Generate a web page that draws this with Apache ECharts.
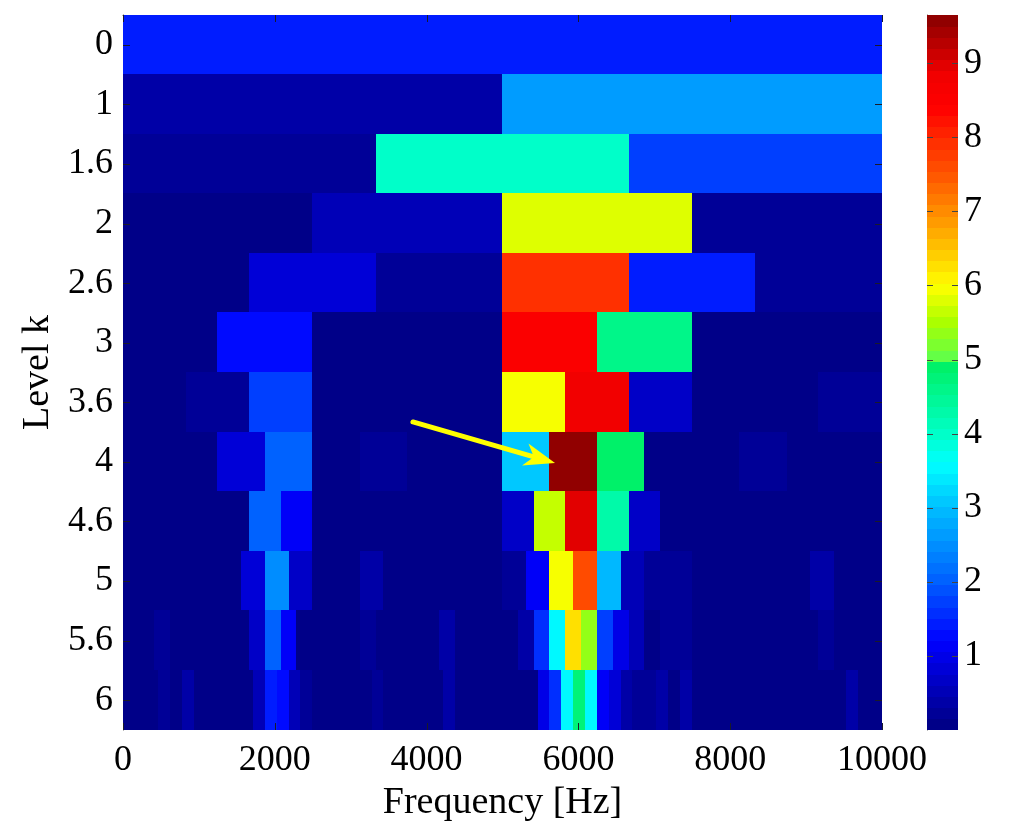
<!DOCTYPE html>
<html>
<head>
<meta charset="utf-8">
<script src="https://cdn.jsdelivr.net/npm/echarts@6/dist/echarts.min.js"></script>
<style>html,body{margin:0;padding:0;background:#fff;}#chart{width:1024px;height:839px;}</style>
</head>
<body>
<div id="chart"></div>
<script>
// ---- data ----
const levels = ['0','1','1.6','2','2.6','3','3.6','4','4.6','5','5.6','6'];
const freqMin = 0, freqMax = 10000, freqStep = 2000;
const xTicks = [0, 2000, 4000, 6000, 8000, 10000];
const cbMin = 0, cbMax = 9.65, cbStep = 1;
const cbTicks = [1, 2, 3, 4, 5, 6, 7, 8, 9];

const row0  = [1.45];
const row1  = [0.4, 2.7];
const row16 = [0.25, 4.0, 1.8];
const row2  = [0.1, 0.5, 5.8, 0.3];
const row26 = [0.08, 0.9, 0.3, 7.9, 1.45, 0.2];
const row3  = [0.1, 1.3, 0.1, 0.1, 8.5, 4.6, 0.1, 0.12];
const row36 = [0.05, 0.2, 1.75, 0.1, 0.1, 0.1, 6.0, 8.8, 0.75, 0.1, 0.1, 0.25];
const row4  = [0.1, 0.1, 0.85, 2.0, 0.1, 0.3, 0.1, 0.1, 3.15, 9.6, 4.85, 0.15, 0.1, 0.25, 0.1, 0.1];
const row46 = [0.1, 0.1, 0.1, 0.1, 2.0, 1.2, 0.1, 0.1, 0.1, 0.1, 0.1, 0.1,
               0.65, 5.6, 9.0, 4.3, 0.65, 0.12, 0.1, 0.1, 0.1, 0.1, 0.1, 0.1];
const row5  = [0.1, 0.1, 0.1, 0.1, 0.1, 0.8, 2.5, 0.7, 0.1, 0.1, 0.35, 0.1, 0.1, 0.1, 0.1, 0.1,
               0.3, 1.2, 6.0, 7.6, 3.0, 0.6, 0.25, 0.25, 0.1, 0.1, 0.1, 0.1, 0.1, 0.35, 0.1, 0.1];
const row56 = [0.1, 0.1, 0.3, 0.1, 0.1, 0.1, 0.1, 0.1, 0.7, 2.0, 1.2, 0.15,
               0.1, 0.1, 0.1, 0.3, 0.1, 0.1, 0.1, 0.1, 0.35, 0.1, 0.1, 0.1,
               0.1, 0.35, 1.6, 3.6, 6.2, 5.3, 1.7, 1.0, 0.5, 0.08, 0.3, 0.3,
               0.1, 0.1, 0.1, 0.1, 0.1, 0.1, 0.1, 0.1, 0.3, 0.1, 0.1, 0.1];
const row6  = [0.1, 0.1, 0.1, 0.3, 0.1, 0.35, 0.1, 0.1, 0.1, 0.1, 0.1, 0.6, 1.45, 1.3, 0.6, 0.2,
               0.1, 0.1, 0.1, 0.1, 0.1, 0.3, 0.1, 0.1, 0.1, 0.1, 0.1, 0.35, 0.1, 0.1, 0.1, 0.1,
               0.1, 0.1, 0.1, 1.0, 1.6, 3.6, 4.8, 3.6, 1.2, 0.9, 0.4, 0.2, 0.2, 0.35, 0.1, 0.45,
               0.1, 0.1, 0.1, 0.1, 0.1, 0.1, 0.1, 0.1, 0.1, 0.1, 0.1, 0.1, 0.1, 0.4, 0.1, 0.1];
const rows = [row0, row1, row16, row2, row26, row3, row36, row4, row46, row5, row56, row6];

// arrow annotation (data coordinates: frequency, level position): tail, tip
const arrowTail = [3820, 6.83];
const arrowTip  = [5692, 7.52];

// ---- colour map (jet-like, as printed in the reference colour bar) ----
const cmapStops = [
  [0.0,  [0,0,128]], [0.6, [0,0,190]], [1.2, [0,0,255]], [2.0, [0,95,255]],
  [3.0,  [0,190,255]], [3.6, [0,255,255]], [4.0, [0,255,200]], [4.95, [0,240,100]],
  [5.05, [100,255,70]], [5.5, [170,255,0]], [6.0, [255,255,0]], [6.5, [255,195,0]],
  [7.0,  [255,140,0]], [7.5, [255,85,0]], [8.0, [255,40,0]], [8.4, [255,0,0]],
  [8.9,  [240,0,0]], [9.0, [220,0,0]], [9.65, [135,0,0]]
];
function cmap(v) {
  if (v <= cmapStops[0][0]) return cmapStops[0][1];
  for (let i = 1; i < cmapStops.length; i++) {
    const a = cmapStops[i-1], b = cmapStops[i];
    if (v <= b[0]) {
      const t = (v - a[0]) / (b[0] - a[0]);
      return a[1].map((c, k) => Math.round(c + (b[1][k] - c) * t));
    }
  }
  return cmapStops[cmapStops.length-1][1];
}
const NC = 64;
const pieces = [];
const cbData = [];
for (let i = 0; i < NC; i++) {
  const lo = cbMin + i * (cbMax - cbMin) / NC;
  const hi = cbMin + (i + 1) * (cbMax - cbMin) / NC;
  const mid = (lo + hi) / 2;
  const c = cmap(mid);
  const col = 'rgb(' + c.join(',') + ')';
  const p = { gte: i === 0 ? -100 : lo, color: col };
  if (i === NC - 1) p.lte = 1000; else p.lt = hi;
  pieces.push(p);
  cbData.push([0, 1, lo, hi, mid]);
}

const mainData = [];
rows.forEach((vals, r) => {
  const n = vals.length;
  vals.forEach((v, j) => {
    mainData.push([freqMin + j * (freqMax - freqMin) / n, freqMin + (j + 1) * (freqMax - freqMin) / n, r, r + 1, v]);
  });
});

function renderRect(params, api) {
  const p0 = api.coord([api.value(0), api.value(2)]);
  const p1 = api.coord([api.value(1), api.value(3)]);
  const x0 = Math.floor(Math.min(p0[0], p1[0]));
  const x1 = Math.ceil(Math.max(p0[0], p1[0]));
  const y0 = Math.floor(Math.min(p0[1], p1[1]));
  const y1 = Math.ceil(Math.max(p0[1], p1[1]));
  return {
    type: 'rect',
    shape: { x: x0, y: y0, width: x1 - x0, height: y1 - y0 },
    style: { fill: api.visual('color') }
  };
}

function renderArrow(params, api) {
  const a = api.coord([api.value(0), api.value(1)]);
  const b = api.coord([api.value(2), api.value(3)]);
  const dx = b[0] - a[0], dy = b[1] - a[1];
  const len = Math.sqrt(dx * dx + dy * dy);
  const ux = dx / len, uy = dy / len, nx = -uy, ny = ux;
  const headLen = 31, headHalf = 11.5, notch = 22;
  const base = [b[0] - ux * headLen, b[1] - uy * headLen];
  const nt = [b[0] - ux * notch, b[1] - uy * notch];
  return {
    type: 'group',
    children: [
      { type: 'line', shape: { x1: a[0], y1: a[1], x2: nt[0], y2: nt[1] },
        style: { stroke: '#ffff00', lineWidth: 5, lineCap: 'round' } },
      { type: 'polygon',
        shape: { points: [b, [base[0] + nx * headHalf, base[1] + ny * headHalf], nt,
                          [base[0] - nx * headHalf, base[1] - ny * headHalf]] },
        style: { fill: '#ffff00' } }
    ]
  };
}

// inward tick marks (MATLAB box style), placed through the axes' scales
function tickRenderer(len, color) {
  return function (params, api) {
    const cs = params.coordSys;
    const kind = api.value(0), v = api.value(1);
    const style = { stroke: color, lineWidth: 1 };
    if (kind === 0) { // x tick: on bottom and top edges
      const x = Math.round(api.coord([v, 0])[0]) + 0.5;
      const yb = cs.y + cs.height, yt = cs.y;
      return { type: 'group', children: [
        { type: 'line', shape: { x1: x, y1: yb, x2: x, y2: yb - len }, style },
        { type: 'line', shape: { x1: x, y1: yt, x2: x, y2: yt + len }, style }
      ]};
    }
    const y = Math.round(api.coord([0, v])[1]) + 0.5;
    const xl = cs.x, xr = cs.x + cs.width;
    return { type: 'group', children: [
      { type: 'line', shape: { x1: xl, y1: y, x2: xl + len, y2: y }, style },
      { type: 'line', shape: { x1: xr, y1: y, x2: xr - len, y2: y }, style }
    ]};
  };
}
const mainTickData = xTicks.map(v => [0, v]).concat(levels.map((_, i) => [1, i + 0.5]));
const cbTickData = cbTicks.map(v => [1, v]);

const FONT = 'Liberation Serif';
const tickStyle = { color: '#000', fontFamily: FONT, fontSize: 36 };

const chart = echarts.init(document.getElementById('chart'), null, { renderer: 'canvas' });
chart.setOption({
  animation: false,
  backgroundColor: '#fff',
  grid: [
    { left: 123, top: 15, width: 759, height: 715, containLabel: false, outerBoundsMode: 'none' },
    { left: 927, top: 15, width: 31, height: 715, containLabel: false, outerBoundsMode: 'none' }
  ],
  xAxis: [
    { gridIndex: 0, type: 'value', position: 'bottom', min: freqMin, max: freqMax, interval: freqStep,
      axisLine: { show: true, lineStyle: { color: '#666', width: 1 } },
      axisTick: { show: false },
      axisLabel: { ...tickStyle, margin: 13, formatter: v => String(v) },
      splitLine: { show: false },
      name: 'Frequency [Hz]', nameLocation: 'middle', nameGap: 53,
      nameTextStyle: { fontFamily: FONT, fontSize: 38, color: '#000' } },
    { gridIndex: 0, type: 'value', position: 'top', min: freqMin, max: freqMax, interval: freqStep,
      axisLine: { show: true, lineStyle: { color: '#aaa', width: 1 } },
      axisTick: { show: false }, axisLabel: { show: false }, splitLine: { show: false } },
    { gridIndex: 1, type: 'value', min: 0, max: 1, show: false }
  ],
  yAxis: [
    { gridIndex: 0, type: 'category', position: 'left', data: levels, inverse: true, boundaryGap: true,
      axisLine: { show: true, lineStyle: { color: '#666', width: 1 } },
      axisTick: { show: false },
      axisLabel: { ...tickStyle, margin: 10, interval: 0 },
      splitLine: { show: false },
      name: 'Level k', nameLocation: 'middle', nameGap: 65, nameRotate: 90,
      nameTextStyle: { fontFamily: FONT, fontSize: 38, color: '#000' } },
    { gridIndex: 0, type: 'category', position: 'right', data: levels, inverse: true, boundaryGap: true,
      axisLine: { show: true, lineStyle: { color: '#aaa', width: 1 } },
      axisTick: { show: false }, axisLabel: { show: false }, splitLine: { show: false } },
    { gridIndex: 0, type: 'value', min: 0, max: levels.length, inverse: true, show: false },
    { gridIndex: 1, type: 'value', position: 'right', min: cbMin, max: cbMax, interval: cbStep,
      axisLine: { show: true, lineStyle: { color: '#999', width: 1 } },
      axisTick: { show: false },
      axisLabel: { ...tickStyle, margin: 6, showMinLabel: false, showMaxLabel: false,
        formatter: v => (v >= 1 && v <= 9 ? String(v) : '') },
      splitLine: { show: false } },
    { gridIndex: 1, type: 'value', position: 'left', min: cbMin, max: cbMax, interval: cbStep,
      axisLine: { show: true, lineStyle: { color: '#999', width: 1 } },
      axisTick: { show: false }, axisLabel: { show: false }, splitLine: { show: false } }
  ],
  visualMap: {
    type: 'piecewise', show: false, dimension: 4, seriesIndex: [0, 1], pieces: pieces
  },
  series: [
    { type: 'custom', xAxisIndex: 0, yAxisIndex: 2, renderItem: renderRect, data: mainData,
      encode: { x: [0, 1], y: [2, 3] }, z: 1, silent: true },
    { type: 'custom', xAxisIndex: 2, yAxisIndex: 3, renderItem: renderRect, data: cbData,
      encode: { x: [0, 1], y: [2, 3] }, z: 1, silent: true },
    { type: 'custom', xAxisIndex: 0, yAxisIndex: 2, renderItem: renderArrow, z: 5, silent: true,
      data: [[arrowTail[0], arrowTail[1], arrowTip[0], arrowTip[1]]],
      encode: { x: [0, 2], y: [1, 3] } },
    { type: 'custom', xAxisIndex: 0, yAxisIndex: 2, renderItem: tickRenderer(7, '#1a1a2a'), z: 4, silent: true,
      clip: false, data: mainTickData, encode: { x: 1 } },
    { type: 'custom', xAxisIndex: 2, yAxisIndex: 3, renderItem: tickRenderer(6, '#444'), z: 4, silent: true,
      clip: false, data: cbTickData, encode: { y: 1 } }
  ]
});
</script>
</body>
</html>
